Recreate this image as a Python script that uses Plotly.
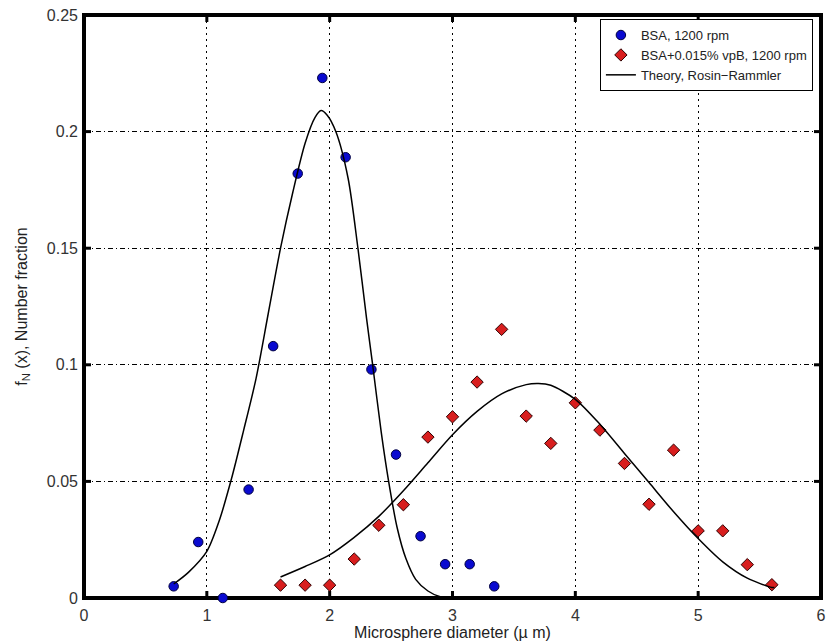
import plotly.graph_objects as go

# Measured data: BSA, 1200 rpm
bsa_x = [0.73, 0.93, 1.13, 1.34, 1.54, 1.74, 1.94, 2.13, 2.34, 2.54, 2.74, 2.94, 3.14, 3.34]
bsa_y = [0.005, 0.024, 0.0, 0.0465, 0.108, 0.182, 0.223, 0.189, 0.098, 0.0615, 0.0265, 0.0145, 0.0145, 0.005]

# Measured data: BSA+0.015% vpB, 1200 rpm
vpb_x = [1.6, 1.8, 2.0, 2.2, 2.4, 2.6, 2.8, 3.0, 3.2, 3.4, 3.6, 3.8, 4.0, 4.2, 4.4, 4.6, 4.8, 5.0, 5.2, 5.4, 5.6]
vpb_y = [0.0055, 0.0055, 0.0055, 0.0167, 0.0312, 0.040, 0.069, 0.0777, 0.0926, 0.1152, 0.078, 0.0663,
         0.0837, 0.072, 0.0577, 0.0402, 0.0634, 0.0288, 0.0288, 0.0143, 0.0057]

# Theory curves
th1_x = [0.73, 0.85, 1.00, 1.10, 1.20, 1.30, 1.40, 1.50, 1.60, 1.70, 1.80, 1.88, 1.93, 1.98, 2.05,
         2.15, 2.23, 2.30, 2.35, 2.42, 2.48, 2.55, 2.62, 2.70, 2.80, 2.90, 2.95]
th1_y = [0.006, 0.011, 0.020, 0.033, 0.051, 0.072, 0.094, 0.122, 0.150, 0.174, 0.195, 0.206, 0.209,
         0.207, 0.200, 0.180, 0.150, 0.120, 0.100, 0.071, 0.050, 0.030, 0.017, 0.008, 0.003, 0.0005, 0.0]

th2_x = [1.60, 1.80, 2.00, 2.20, 2.40, 2.60, 2.80, 3.00, 3.20, 3.40, 3.60, 3.70, 3.80, 4.00, 4.20,
         4.40, 4.60, 4.80, 5.00, 5.20, 5.40, 5.60, 5.62]
th2_y = [0.009, 0.0135, 0.0185, 0.026, 0.035, 0.046, 0.058, 0.070, 0.080, 0.0875, 0.0915, 0.0920,
         0.0912, 0.0852, 0.0745, 0.062, 0.0495, 0.037, 0.0255, 0.0155, 0.0085, 0.0045, 0.0045]

x_ticks = [0, 1, 2, 3, 4, 5, 6]
y_ticks = [0, 0.05, 0.1, 0.15, 0.2, 0.25]
y_tick_text = ["0", "0.05", "0.1", "0.15", "0.2", "0.25"]

FONT = "Liberation Sans, Arial, sans-serif"
W, H = 830, 644
M = dict(l=84, r=9, t=15, b=46)
PLOT_W = W - M["l"] - M["r"]
PLOT_H = H - M["t"] - M["b"]
TICKLEN = 7

fig = go.Figure()
fig.add_trace(go.Scatter(
    x=bsa_x, y=bsa_y, mode="markers", name="BSA, 1200 rpm",
    marker=dict(symbol="circle", size=9.5, color="#0a0ad0", line=dict(color="#000040", width=1)),
    cliponaxis=False))
fig.add_trace(go.Scatter(
    x=vpb_x, y=vpb_y, mode="markers", name="BSA+0.015% vpB, 1200 rpm",
    marker=dict(symbol="diamond", size=9.5, color="#d81e1e", line=dict(color="#300000", width=1)),
    cliponaxis=False))
fig.add_trace(go.Scatter(
    x=th1_x, y=th1_y, mode="lines", name="Theory, Rosin\u2212Rammler",
    line=dict(color="black", width=1.5, shape="spline", smoothing=0.8), legendgroup="th"))
fig.add_trace(go.Scatter(
    x=th2_x, y=th2_y, mode="lines", name="Theory, Rosin\u2212Rammler", showlegend=False,
    line=dict(color="black", width=1.5, shape="spline", smoothing=0.8), legendgroup="th"))

axis_common = dict(
    showline=False, ticks="",
    showgrid=True, gridcolor="#000000", gridwidth=1, zeroline=False,
    tickfont=dict(family=FONT, size=16, color="#333333"),
    automargin=False,
)

fig.update_xaxes(range=[0, 6], tickvals=x_ticks, griddash="2px,4px", ticklabelstandoff=6,
                 title=dict(text="Microsphere diameter (\u00b5 m)", font=dict(family=FONT, size=16, color="#222222"),
                            standoff=3),
                 **axis_common)
fig.update_yaxes(range=[0, 0.25], tickvals=y_ticks, ticktext=y_tick_text, griddash="5px,3px,1px,3px",
                 ticklabelstandoff=5,
                 title=dict(text="f<sub>N</sub> (x), Number fraction", font=dict(family=FONT, size=16, color="#222222"),
                            standoff=15),
                 **axis_common)

# frame (thick box) and inward tick marks, in data/paper fractions
shapes = [dict(type="rect", xref="paper", yref="paper", x0=0, x1=1, y0=0, y1=1,
               line=dict(color="black", width=4), layer="below")]
for xv in x_ticks[1:-1]:
    for y0, y1 in ((0, TICKLEN / PLOT_H), (1, 1 - TICKLEN / PLOT_H)):
        shapes.append(dict(type="line", xref="x", yref="paper", x0=xv, x1=xv, y0=y0, y1=y1,
                           line=dict(color="black", width=3), layer="below"))
for yv in y_ticks[1:-1]:
    for x0, x1 in ((0, TICKLEN / PLOT_W), (1, 1 - TICKLEN / PLOT_W)):
        shapes.append(dict(type="line", xref="paper", yref="y", x0=x0, x1=x1, y0=yv, y1=yv,
                           line=dict(color="black", width=3), layer="below"))

fig.update_layout(
    width=W, height=H,
    margin=M,
    paper_bgcolor="white", plot_bgcolor="rgba(0,0,0,0)",
    font=dict(family=FONT, color="#222222"),
    shapes=shapes,
    showlegend=True,
    legend=dict(x=0.70, y=0.993, xanchor="left", yanchor="top",
                bgcolor="white", bordercolor="black", borderwidth=1,
                font=dict(family=FONT, size=13, color="#222222"),
                tracegroupgap=0, itemwidth=30),
)

fig.write_html("out.html", config={"displayModeBar": False},
               post_script="document.body.style.margin='0';document.body.style.overflow='hidden';")
